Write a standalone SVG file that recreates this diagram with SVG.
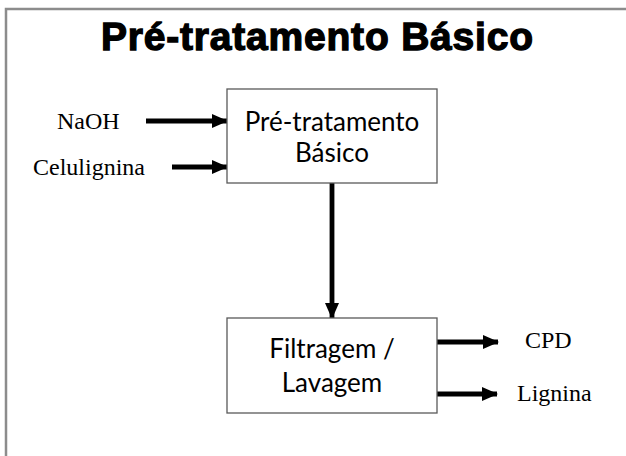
<svg xmlns="http://www.w3.org/2000/svg" width="626" height="456" viewBox="0 0 626 456">
<defs>
<style>
.frame{fill:none;stroke:#8c8c8c;stroke-width:2.5}
.box{fill:#fff;stroke:#595959;stroke-width:1.3}
.title{font-family:"Liberation Sans",Arial,sans-serif;font-weight:bold;font-size:39px;fill:#000;stroke:#000;stroke-width:1.3}
.lbl{font-family:"Lato","Carlito",sans-serif;font-size:26px;fill:#000}
.ser{font-family:"Liberation Serif","Times New Roman",serif;font-size:24px;fill:#000}
.arr{stroke:#000;stroke-width:4.8;fill:none;marker-end:url(#ah)}
</style>
<marker id="ah" markerUnits="userSpaceOnUse" markerWidth="16" markerHeight="14" viewBox="0 0 16 14" refX="15" refY="7" orient="auto">
<path d="M0,0 L16,7 L0,14 z" fill="#000"/>
</marker>
</defs>
<rect width="626" height="456" fill="#fff"/>
<path class="frame" d="M6,470 L6,9 L640,9"/>
<text class="title" x="317" y="50" text-anchor="middle" textLength="432">Pré-tratamento Básico</text>
<g id="connectors">
<line class="arr" x1="146" y1="121" x2="227" y2="121"/>
<line class="arr" x1="172" y1="167" x2="227" y2="167"/>
<line class="arr" x1="332" y1="183" x2="332" y2="318"/>
<line class="arr" x1="437" y1="342" x2="498" y2="342"/>
<line class="arr" x1="437" y1="394" x2="497" y2="394"/>
</g>
<g id="naoh"><text class="ser" x="57" y="129">NaOH</text></g>
<g id="celulignina"><text class="ser" x="33" y="175">Celulignina</text></g>
<g id="pretratamento">
<rect class="box" x="227" y="89" width="210" height="94"/>
<text class="lbl" x="332" y="131" text-anchor="middle">Pré-tratamento</text>
<text class="lbl" x="332" y="162" text-anchor="middle">Básico</text>
</g>
<g id="filtragem">
<rect class="box" x="227" y="318" width="210" height="95"/>
<text class="lbl" x="332" y="358" text-anchor="middle">Filtragem /</text>
<text class="lbl" x="332" y="392" text-anchor="middle">Lavagem</text>
</g>
<g id="cpd"><text class="ser" x="525" y="348">CPD</text></g>
<g id="lignina"><text class="ser" x="517" y="401">Lignina</text></g>
</svg>
